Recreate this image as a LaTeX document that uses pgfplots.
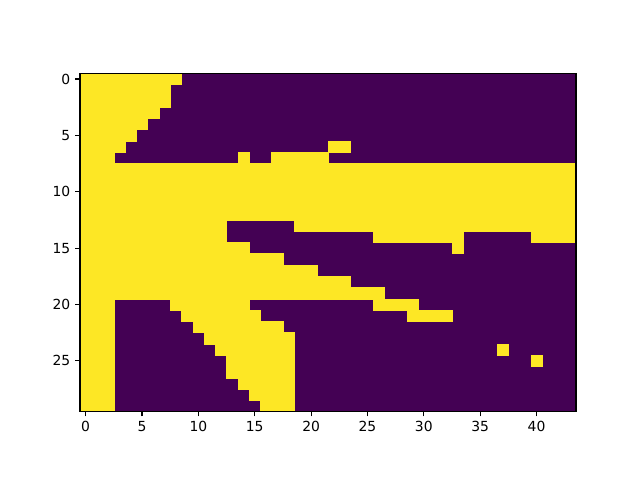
\documentclass[border=0pt]{standalone}
\usepackage{fontspec}
\setmainfont{DejaVu Sans}
\usepackage{pgfplots}
\pgfplotsset{compat=1.18}
\definecolor{vyel}{HTML}{FDE725}
\definecolor{vpur}{HTML}{440154}
% \run{row}{first col}{last col} : a run of yellow (value 1) cells
\newcommand{\run}[3]{%
  \pgfmathsetmacro\xa{#2-0.5}\pgfmathsetmacro\xb{#3+0.5}%
  \pgfmathsetmacro\ya{#1-0.5}\pgfmathsetmacro\yb{#1+0.5}%
  \addplot[fill=vyel, draw=vyel, line width=0.3pt] coordinates {(\xa,\ya) (\xb,\ya) (\xb,\yb) (\xa,\yb)} -- cycle;}
\begin{document}
\begin{tikzpicture}
\path (0,0) rectangle (460.8pt,345.6pt);
\begin{axis}[at={(57.6pt,49.3pt)}, anchor=south west, scale only axis,
  width=357.12pt, height=243.5pt,
  xmin=-0.5, xmax=43.5, ymin=-0.5, ymax=29.5, y dir=reverse,
  axis on top, axis background/.style={fill=vpur},
  xtick={0,5,...,40}, ytick={0,5,...,25},
  tick align=outside, xtick pos=bottom, ytick pos=left,
  major tick length=3.5pt,
  every tick/.style={black, line width=0.8pt},
  axis line style={line width=0.8pt},
  tick label style={font=\fontsize{10}{12}\selectfont},
  /pgf/number format/assume math mode=true]
\run{0}{0}{8}
\run{1}{0}{7}
\run{2}{0}{7}
\run{3}{0}{6}
\run{4}{0}{5}
\run{5}{0}{4}
\run{6}{0}{3} \run{6}{22}{23}
\run{7}{0}{2} \run{7}{14}{14} \run{7}{17}{21}
\run{8}{0}{43}
\run{9}{0}{43}
\run{10}{0}{43}
\run{11}{0}{43}
\run{12}{0}{43}
\run{13}{0}{12} \run{13}{19}{43}
\run{14}{0}{12} \run{14}{26}{33} \run{14}{40}{43}
\run{15}{0}{14} \run{15}{33}{33}
\run{16}{0}{17}
\run{17}{0}{20}
\run{18}{0}{23}
\run{19}{0}{26}
\run{20}{0}{2} \run{20}{8}{14} \run{20}{26}{29}
\run{21}{0}{2} \run{21}{9}{15} \run{21}{29}{32}
\run{22}{0}{2} \run{22}{10}{17}
\run{23}{0}{2} \run{23}{11}{18}
\run{24}{0}{2} \run{24}{12}{18} \run{24}{37}{37}
\run{25}{0}{2} \run{25}{13}{18} \run{25}{40}{40}
\run{26}{0}{2} \run{26}{13}{18}
\run{27}{0}{2} \run{27}{14}{18}
\run{28}{0}{2} \run{28}{15}{18}
\run{29}{0}{2} \run{29}{16}{18}
\end{axis}
\end{tikzpicture}
\end{document}
